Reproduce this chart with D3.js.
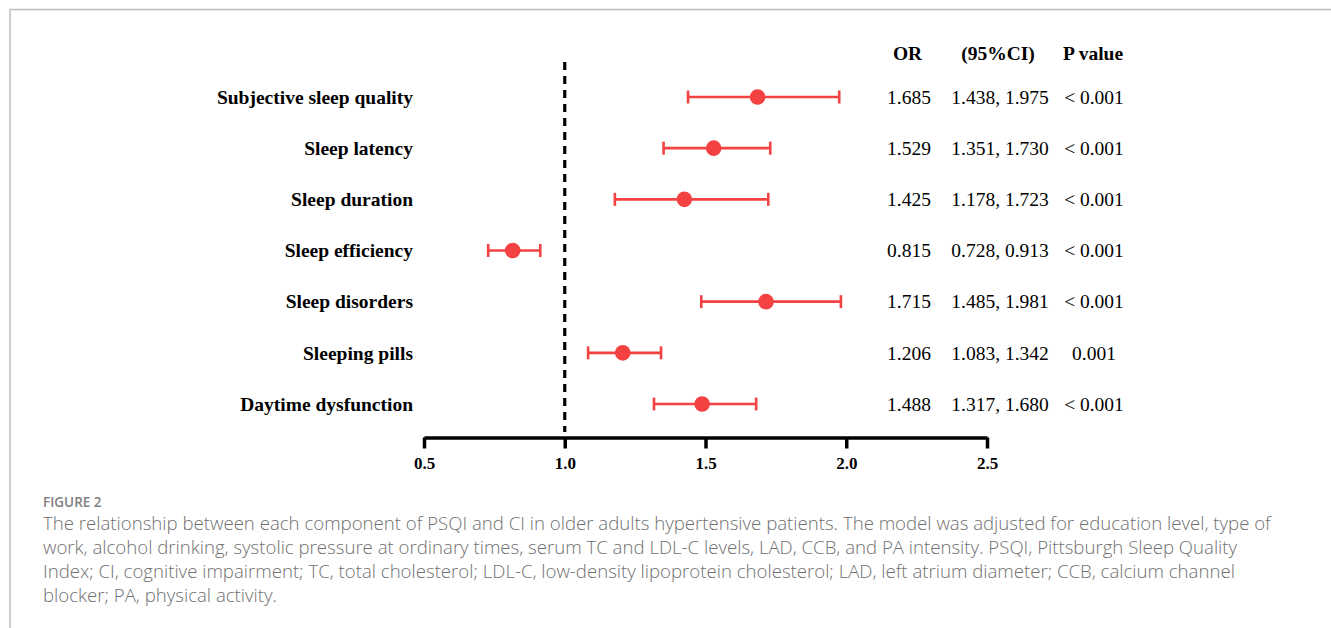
<!DOCTYPE html>
<html>
<head>
<meta charset="utf-8">
<script src="https://cdn.jsdelivr.net/npm/d3@7"></script>
<style>
  html, body { margin: 0; padding: 0; background: #fff; }
  svg { display: block; }
</style>
</head>
<body>
<svg id="chart"></svg>
<script>
// Data
const categories = [
  "Subjective sleep quality",
  "Sleep latency",
  "Sleep duration",
  "Sleep efficiency",
  "Sleep disorders",
  "Sleeping pills",
  "Daytime dysfunction"
];
const orValues = [1.685, 1.529, 1.425, 0.815, 1.715, 1.206, 1.488];
const ciLower  = [1.438, 1.351, 1.178, 0.728, 1.485, 1.083, 1.317];
const ciUpper  = [1.975, 1.730, 1.723, 0.913, 1.981, 1.342, 1.680];
const pValues  = ["< 0.001", "< 0.001", "< 0.001", "< 0.001", "< 0.001", "0.001", "< 0.001"];
const xTicks = [0.5, 1.0, 1.5, 2.0, 2.5];
const refValue = 1.0;
const headers = ["OR", "(95%CI)", "P value"];

const figureLabel = "FIGURE 2";
const captionLines = [
  "The relationship between each component of PSQI and CI in older adults hypertensive patients. The model was adjusted for education level, type of",
  "work, alcohol drinking, systolic pressure at ordinary times, serum TC and LDL-C levels, LAD, CCB, and PA intensity. PSQI, Pittsburgh Sleep Quality",
  "Index; CI, cognitive impairment; TC, total cholesterol; LDL-C, low-density lipoprotein cholesterol; LAD, left atrium diameter; CCB, calcium channel",
  "blocker; PA, physical activity."
];

const W = 1331, H = 628;
const red = "#f44242";
const serif = "'Liberation Serif', 'Times New Roman', serif";

const svg = d3.select("#chart").attr("width", W).attr("height", H);

// frame (top and left rule)
svg.append("path")
  .attr("d", `M10,${H} L10,9.5 L${W},9.5`)
  .attr("fill", "none")
  .attr("stroke", "#bdbdbd")
  .attr("stroke-width", 1.5);

// Scales
const x = d3.scaleLinear().domain([0.5, 2.5]).range([424, 987]);
const y = d3.scalePoint().domain(categories).range([97, 404]);

const rows = categories.map((c, i) => ({
  name: c, or: orValues[i], lo: ciLower[i], hi: ciUpper[i], p: pValues[i]
}));

// reference line at OR = 1
svg.append("line")
  .attr("x1", x(refValue)).attr("x2", x(refValue))
  .attr("y1", 62).attr("y2", 432)
  .attr("stroke", "#000")
  .attr("stroke-width", 3.2)
  .attr("stroke-dasharray", "8,6");

// x axis
const axis = svg.append("g")
  .attr("transform", "translate(0,437.5)")
  .call(d3.axisBottom(x).tickValues(xTicks).tickFormat(d3.format(".1f")).tickSize(11).tickSizeOuter(0));
axis.select(".domain").attr("stroke", "#000").attr("stroke-width", 3.5);
axis.selectAll(".tick line").attr("stroke", "#000").attr("stroke-width", 3.5);
axis.selectAll(".tick text")
  .attr("y", 0).attr("dy", "0")
  .attr("transform", "translate(0,31)")
  .style("font-family", serif)
  .style("font-weight", "bold")
  .style("font-size", "17px")
  .attr("fill", "#000");

// category labels
svg.append("g").selectAll("text")
  .data(rows).enter().append("text")
  .attr("x", 413)
  .attr("y", d => y(d.name))
  .attr("dy", "0.35em")
  .attr("text-anchor", "end")
  .style("font-family", serif)
  .style("font-weight", "bold")
  .style("font-size", "19.5px")
  .text(d => d.name);

// error bars
const bars = svg.append("g").selectAll("g")
  .data(rows).enter().append("g")
  .attr("stroke", red)
  .attr("stroke-width", 2.6);

bars.append("line")
  .attr("x1", d => x(d.lo)).attr("x2", d => x(d.hi))
  .attr("y1", d => y(d.name)).attr("y2", d => y(d.name));
bars.append("line")
  .attr("x1", d => x(d.lo)).attr("x2", d => x(d.lo))
  .attr("y1", d => y(d.name) - 6.5).attr("y2", d => y(d.name) + 6.5);
bars.append("line")
  .attr("x1", d => x(d.hi)).attr("x2", d => x(d.hi))
  .attr("y1", d => y(d.name) - 6.5).attr("y2", d => y(d.name) + 6.5);

svg.append("g").selectAll("circle")
  .data(rows).enter().append("circle")
  .attr("cx", d => x(d.or))
  .attr("cy", d => y(d.name))
  .attr("r", 7.8)
  .attr("fill", red);

// table columns
const colX = [909, 1000, 1094];
const f3 = d3.format(".3f");

svg.append("g").selectAll("text")
  .data(headers).enter().append("text")
  .attr("x", (d, i) => colX[i] - (i === 0 ? 1.5 : i === 1 ? 2 : 1))
  .attr("y", 53)
  .attr("dy", "0.35em")
  .attr("text-anchor", "middle")
  .style("font-family", serif)
  .style("font-weight", "bold")
  .style("font-size", "19.5px")
  .text(d => d);

const cols = [
  d => f3(d.or),
  d => f3(d.lo) + ", " + f3(d.hi),
  d => d.p
];
cols.forEach((fn, ci) => {
  svg.append("g").selectAll("text")
    .data(rows).enter().append("text")
    .attr("x", colX[ci])
    .attr("y", d => y(d.name))
    .attr("dy", "0.35em")
    .attr("text-anchor", "middle")
    .style("font-family", serif)
    .style("font-size", "19.5px")
    .text(fn);
});

// caption
svg.append("text")
  .attr("x", 43)
  .attr("y", 502)
  .attr("dy", "0.35em")
  .style("font-family", "'Open Sans', sans-serif")
  .style("font-size", "13.5px")
  .style("font-weight", 600)
  .attr("fill", "#808080")
  .text(figureLabel);

const cap = svg.append("g").selectAll("text")
  .data(captionLines).enter().append("text")
  .attr("x", 43)
  .attr("y", (d, i) => 523 + i * 24.3)
  .attr("dy", "0.35em")
  .style("font-family", "'Open Sans', sans-serif")
  .style("font-size", "17px")
  .style("font-weight", 300)
  .attr("fill", "#707070")
  .text(d => d);

// fit caption so that the first line ends where it does in the figure
const firstLen = cap.node().getComputedTextLength();
const capSize = 17 * 1228 / firstLen;
cap.style("font-size", capSize + "px");
</script>
</body>
</html>
